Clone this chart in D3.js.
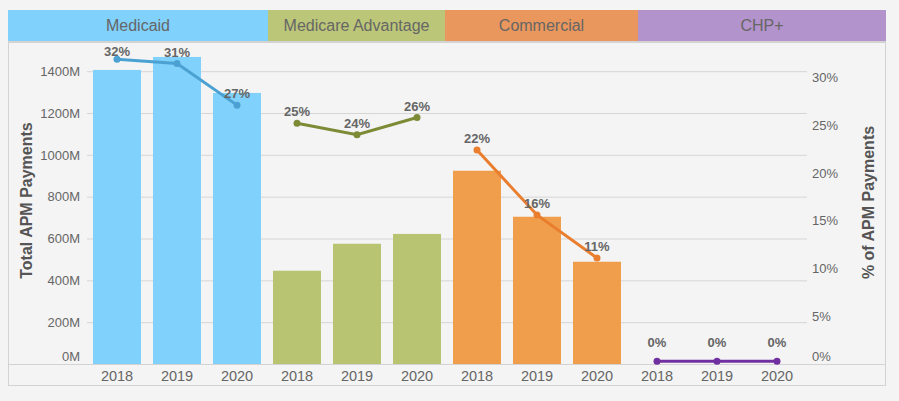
<!DOCTYPE html>
<html>
<head>
<meta charset="utf-8">
<script src="https://cdn.jsdelivr.net/npm/d3@7"></script>
<style>
  body { margin: 0; background: #f4f4f4; }
  svg text { font-family: "Liberation Sans", Arial, sans-serif; }
</style>
</head>
<body>
<div id="chart"></div>
<script>
// data
var payers = ["Medicaid", "Medicare Advantage", "Commercial", "CHP+"];
var years = ["2018", "2019", "2020"];
// total APM payments, millions, per payer per year
var totalPayments = [
    [1406, 1468, 1296],
    [446, 575, 622],
    [924, 704, 489],
    [0, 0, 0]
];
// % of APM payments, per payer per year
var apmPercent = [
    [31.9, 31.45, 27.1],
    [25.2, 24.0, 25.8],
    [22.4, 15.6, 11.1],
    [0.3, 0.3, 0.3]
];
var leftTicks = [0, 200, 400, 600, 800, 1000, 1200, 1400];
var rightTicks = [0, 5, 10, 15, 20, 25, 30];

// styles
var headerColors = ["#80d1fb", "#bcc678", "#e9975c", "#b393cc"];
var barColors = ["#80d1fb", "#b9c472", "#f19e4c", "#b393cc"];
var lineColors = ["#4ba2d2", "#7d8b36", "#e97e2f", "#7030a0"];
var headerEdges = [8, 268, 445, 638, 886];

var svgWidth = 899;
var svgHeight = 401;
var plotLeft = 87, plotRight = 807, plotTop = 44, baseY = 364;

var svg = d3.select("#chart")
    .append("svg")
    .attr("width", svgWidth)
    .attr("height", svgHeight);

svg.append("rect")
    .attr("width", svgWidth)
    .attr("height", svgHeight)
    .attr("fill", "#f4f4f4");

// panel frame
svg.append("rect")
    .attr("x", 8.5).attr("y", 41.5)
    .attr("width", 877).attr("height", 344)
    .attr("fill", "none")
    .attr("stroke", "#d3d3d3");

// header bands
var header = svg.append("g");
payers.forEach(function(p, i) {
    header.append("rect")
        .attr("x", headerEdges[i])
        .attr("y", 10)
        .attr("width", headerEdges[i + 1] - headerEdges[i])
        .attr("height", 31)
        .attr("fill", headerColors[i]);
    header.append("text")
        .attr("x", (headerEdges[i] + headerEdges[i + 1]) / 2)
        .attr("y", 25.5)
        .attr("dy", "0.35em")
        .attr("text-anchor", "middle")
        .attr("font-size", "16px")
        .attr("fill", "#666")
        .text(p);
});
svg.append("line")
    .attr("x1", 8).attr("x2", 886)
    .attr("y1", 42).attr("y2", 42)
    .attr("stroke", "#d3d3d3")
    .attr("stroke-width", 2);

// flatten into bands
var rows = [];
payers.forEach(function(p, i) {
    years.forEach(function(y, j) {
        rows.push({payer: i, year: y, total: totalPayments[i][j], pct: apmPercent[i][j]});
    });
});

var xScale = d3.scaleBand()
    .domain(d3.range(rows.length))
    .range([plotLeft, plotRight])
    .paddingInner(0.2)
    .paddingOuter(0.1);

var yLeft = d3.scaleLinear()
    .domain([0, 1530])
    .range([baseY, plotTop]);

var yRight = d3.scaleLinear()
    .domain([0, 33.5])
    .range([baseY, plotTop]);

// gridlines
svg.append("g")
    .attr("transform", `translate(${plotLeft}, 0)`)
    .call(d3.axisLeft(yLeft).tickValues(leftTicks.slice(1)).tickSize(-(plotRight - plotLeft)).tickFormat(""))
    .call(g => g.select(".domain").remove())
    .call(g => g.selectAll("line").attr("stroke", "#d6d6d6"));

// bars
svg.append("g").selectAll("rect")
    .data(rows)
    .enter()
    .append("rect")
    .attr("x", (d, i) => xScale(i))
    .attr("y", d => yLeft(d.total))
    .attr("width", xScale.bandwidth())
    .attr("height", d => baseY - yLeft(d.total))
    .attr("fill", d => barColors[d.payer]);

// baseline
svg.append("line")
    .attr("x1", 8).attr("x2", 886)
    .attr("y1", baseY + 0.5).attr("y2", baseY + 0.5)
    .attr("stroke", "#d3d3d3");

// left axis
var leftAxis = svg.append("g")
    .attr("transform", `translate(${plotLeft}, 0)`)
    .call(d3.axisLeft(yLeft).tickValues(leftTicks).tickSize(0).tickPadding(7).tickFormat(d => d + "M"));
leftAxis.select(".domain").remove();
leftAxis.selectAll("text")
    .attr("font-size", "13px")
    .attr("fill", "#666")
    .filter(d => d === 0).attr("y", -8);

// right axis
var rightAxis = svg.append("g")
    .attr("transform", `translate(${plotRight}, 0)`)
    .call(d3.axisRight(yRight).tickValues(rightTicks).tickSize(0).tickPadding(5).tickFormat(d => d + "%"));
rightAxis.select(".domain").remove();
rightAxis.selectAll("text")
    .attr("font-size", "13px")
    .attr("fill", "#666")
    .filter(d => d === 0).attr("y", -8);

// bottom axis
var bottomAxis = svg.append("g")
    .attr("transform", `translate(0, ${baseY})`)
    .call(d3.axisBottom(xScale).tickSize(0).tickPadding(7).tickFormat(i => rows[i].year));
bottomAxis.select(".domain").remove();
bottomAxis.selectAll("text")
    .attr("font-size", "14.5px")
    .attr("fill", "#666");

// lines, points and labels
var cx = i => xScale(i) + xScale.bandwidth() / 2;
var line = d3.line()
    .x(d => cx(d.idx))
    .y(d => yRight(d.pct));

payers.forEach(function(p, k) {
    var pts = rows.map((d, i) => Object.assign({idx: i}, d)).filter(d => d.payer === k);
    var g = svg.append("g");
    g.append("path")
        .attr("d", line(pts))
        .attr("fill", "none")
        .attr("stroke", lineColors[k])
        .attr("stroke-width", 3);
    g.selectAll("circle")
        .data(pts)
        .enter()
        .append("circle")
        .attr("cx", d => cx(d.idx))
        .attr("cy", d => yRight(d.pct))
        .attr("r", 3.5)
        .attr("fill", lineColors[k]);
    g.selectAll("text")
        .data(pts)
        .enter()
        .append("text")
        .attr("x", d => cx(d.idx))
        .attr("y", d => Math.min(Math.max(yRight(d.pct) - 11.5, 51.7), baseY - 22))
        .attr("dy", "0.35em")
        .attr("text-anchor", "middle")
        .attr("font-size", "13px")
        .attr("font-weight", "bold")
        .attr("fill", "#666")
        .text(d => Math.round(d.pct) + "%");
});

// axis titles
svg.append("text")
    .attr("transform", "translate(31.5, 200.5) rotate(-90)")
    .attr("text-anchor", "middle")
    .attr("font-size", "16px")
    .attr("font-weight", "bold")
    .attr("fill", "#555")
    .text("Total APM Payments");

svg.append("text")
    .attr("transform", "translate(874, 202.5) rotate(-90)")
    .attr("text-anchor", "middle")
    .attr("font-size", "16px")
    .attr("font-weight", "bold")
    .attr("fill", "#555")
    .text("% of APM Payments");
</script>
</body>
</html>
